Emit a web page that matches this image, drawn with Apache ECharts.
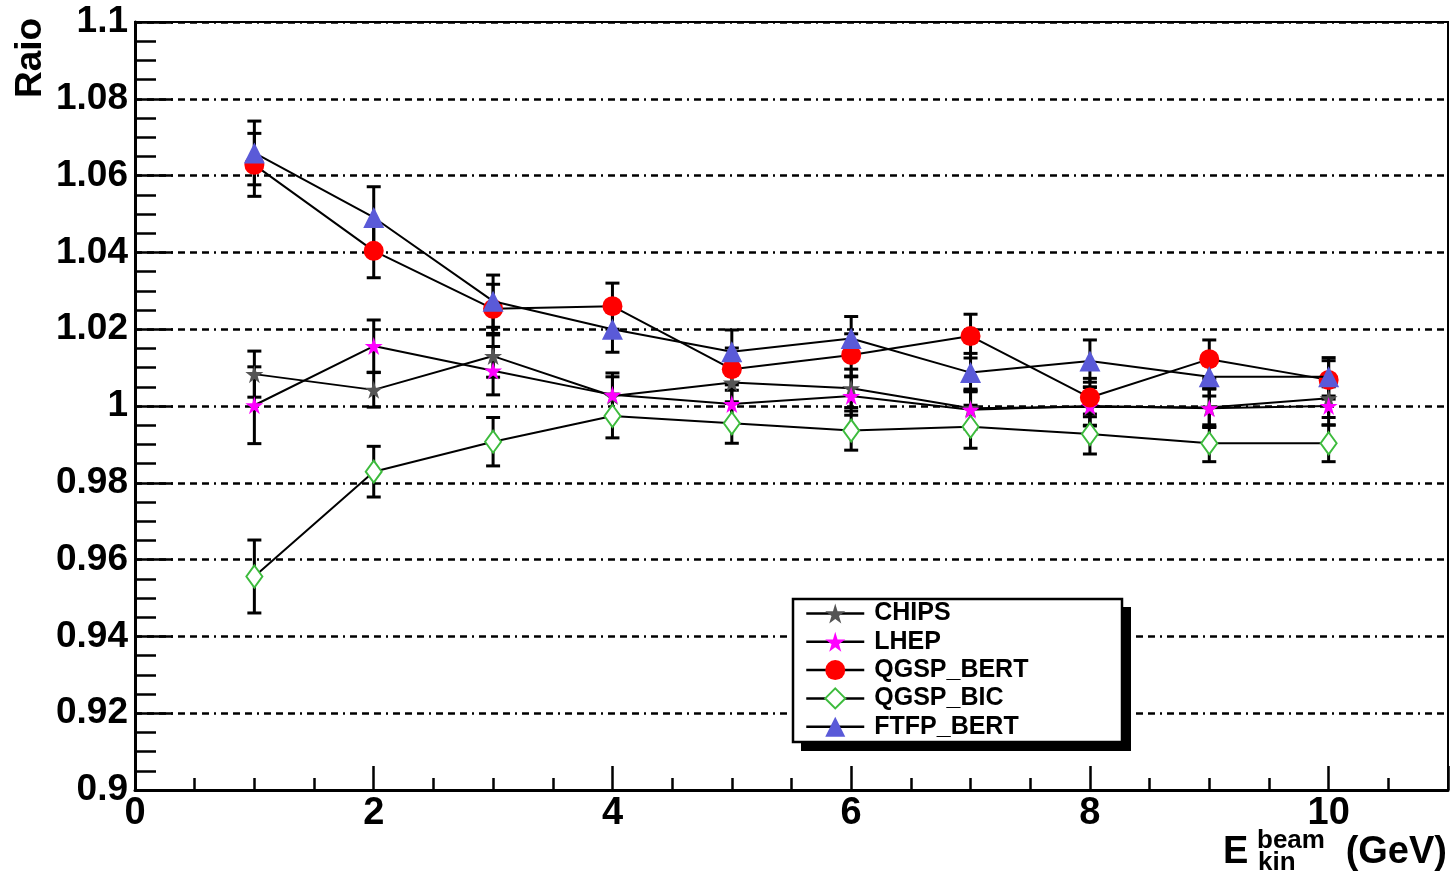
<!DOCTYPE html>
<html>
<head>
<meta charset="utf-8">
<script src="https://cdn.jsdelivr.net/npm/echarts@6/dist/echarts.min.js"></script>
<style>
  html, body { margin: 0; padding: 0; background: #fff; }
  #chart { width: 1451px; height: 877px; }
</style>
</head>
<body>
<div id="chart"></div>
<script>
// Beam energies (GeV)
const energies = [1, 2, 3, 4, 5, 6, 7, 8, 9, 10];

// Ratio per physics list, with statistical errors
const chips     = [1.0083, 1.0042, 1.0130, 1.0026, 1.0061, 1.0046, 0.9994, 0.9998, 0.9996, 1.0020];
const chipsErr  = [0.0060, 0.0045, 0.0055, 0.0050, 0.0050, 0.0050, 0.0050, 0.0050, 0.0050, 0.0050];
const lhep      = [1.0002, 1.0156, 1.0092, 1.0029, 1.0005, 1.0026, 0.9990, 1.0000, 0.9994, 1.0000];
const lhepErr   = [0.0100, 0.0068, 0.0063, 0.0057, 0.0050, 0.0050, 0.0050, 0.0050, 0.0050, 0.0050];
const qgspBert  = [1.0628, 1.0404, 1.0253, 1.0260, 1.0096, 1.0133, 1.0182, 1.0022, 1.0122, 1.0068];
const qgspBertErr = [0.0082, 0.0070, 0.0064, 0.0060, 0.0055, 0.0055, 0.0057, 0.0050, 0.0050, 0.0050];
const qgspBic   = [0.9556, 0.9829, 0.9907, 0.9974, 0.9955, 0.9936, 0.9946, 0.9927, 0.9903, 0.9903];
const qgspBicErr = [0.0095, 0.0066, 0.0063, 0.0057, 0.0052, 0.0051, 0.0056, 0.0052, 0.0048, 0.0048];
const ftfpBert  = [1.0659, 1.0491, 1.0273, 1.0200, 1.0141, 1.0176, 1.0087, 1.0117, 1.0076, 1.0076];
const ftfpBertErr = [0.0083, 0.0080, 0.0068, 0.0060, 0.0057, 0.0057, 0.0050, 0.0055, 0.0050, 0.0050];

// Axis tick labels
const xTickLabels = ['0', '2', '4', '6', '8', '10'];
const yTickLabels = ['0.9', '0.92', '0.94', '0.96', '0.98', '1', '1.02', '1.04', '1.06', '1.08', '1.1'];

const STAR = 'path://M50,0 L61,35 L98,35 L68,57 L79,91 L50,70 L21,91 L32,57 L2,35 L39,35 Z';
const FONT = 'Liberation Sans, Arial, Helvetica, sans-serif';

const seriesDefs = [
  { name: 'CHIPS',      values: chips,    errors: chipsErr,    symbol: STAR,           size: 18, color: '#555555' },
  { name: 'LHEP',       values: lhep,     errors: lhepErr,     symbol: STAR,           size: 18, color: '#ff00ff' },
  { name: 'QGSP_BERT',  values: qgspBert, errors: qgspBertErr, symbol: 'circle',       size: 20, color: '#ff0000' },
  { name: 'QGSP_BIC',   values: qgspBic,  errors: qgspBicErr,  symbol: 'emptyDiamond', size: [16, 22], color: '#3dbb3d' },
  { name: 'FTFP_BERT',  values: ftfpBert, errors: ftfpBertErr, symbol: 'triangle',     size: 21, color: '#5a5ad8' }
];

function errorBarRender(params, api) {
  const x = api.value(0), y = api.value(1), e = api.value(2);
  const top = api.coord([x, y + e]);
  const bot = api.coord([x, y - e]);
  const w = 7;
  const style = { stroke: '#000', lineWidth: 3 };
  return {
    type: 'group',
    children: [
      { type: 'line', shape: { x1: top[0], y1: top[1], x2: bot[0], y2: bot[1] }, style },
      { type: 'line', shape: { x1: top[0] - w, y1: top[1], x2: top[0] + w, y2: top[1] }, style },
      { type: 'line', shape: { x1: bot[0] - w, y1: bot[1], x2: bot[0] + w, y2: bot[1] }, style }
    ]
  };
}

const series = [];
seriesDefs.forEach((d) => {
  series.push({
    type: 'custom',
    name: d.name + ' err',
    renderItem: errorBarRender,
    data: energies.map((x, k) => [x, d.values[k], d.errors[k]]),
    z: 2
  });
});
seriesDefs.forEach((d, i) => {
  series.push({
    type: 'line',
    name: d.name,
    data: energies.map((x, k) => [x, d.values[k]]),
    symbol: d.symbol,
    symbolSize: d.size,
    showAllSymbol: true,
    lineStyle: { color: '#000', width: 2 },
    itemStyle: { color: d.color, borderWidth: d.symbol === 'emptyDiamond' ? 2.5 : 0, borderColor: d.color },
    z: 3 + i
  });
});

const chart = echarts.init(document.getElementById('chart'));
chart.setOption({
  animation: false,
  backgroundColor: '#fff',
  grid: { left: 135, top: 22, right: 3, bottom: 87, show: true, borderColor: '#000', borderWidth: 2 },
  xAxis: [
    {
      type: 'value', min: 0, max: 11, interval: 2,
      axisLine: { lineStyle: { color: '#000', width: 3 } },
      axisTick: { inside: true, length: 24, lineStyle: { color: '#000', width: 2.5 } },
      axisLabel: {
        margin: 5, color: '#000', fontSize: 38, fontWeight: 'bold', fontFamily: FONT,
        formatter: v => (v <= 10 ? xTickLabels[Math.round(v / 2)] : '')
      },
      splitLine: { show: false }
    },
    {
      type: 'value', min: 0, max: 11, interval: 0.5, position: 'bottom',
      axisLine: { show: false },
      axisTick: { inside: true, length: 12, lineStyle: { color: '#000', width: 2.5 } },
      axisLabel: { show: false },
      splitLine: { show: false }
    }
  ],
  yAxis: {
    type: 'value', min: 0.9, max: 1.1, interval: 0.02,
    axisLine: { show: true, lineStyle: { color: '#000', width: 3 } },
    axisTick: { show: true, inside: true, length: 38, lineStyle: { color: '#000', width: 2.5 } },
    minorTick: { show: true, splitNumber: 4, length: 21, lineStyle: { color: '#000', width: 2.5 } },
    axisLabel: {
      margin: 7, color: '#000', fontSize: 37, fontWeight: 'bold', fontFamily: FONT,
      formatter: v => yTickLabels[Math.round((v - 0.9) / 0.02)]
    },
    splitLine: { show: true, lineStyle: { color: '#000', width: 2.5, type: [7, 5, 7, 5, 7, 5, 2, 5] } }
  },
  legend: {
    data: seriesDefs.map(d => d.name),
    orient: 'vertical',
    left: 805, top: 601,
    padding: 0,
    itemGap: 3.3,
    itemWidth: 58,
    itemHeight: 25,
    z: 60,
    lineStyle: { width: 2.5 },
    textStyle: { color: '#000', fontSize: 25, fontWeight: 'bold', fontFamily: FONT, padding: [0, 0, 0, 5] }
  },
  graphic: [
    // legend frame with its drop shadow
    { type: 'rect', z: 50, shape: { x: 801, y: 607, width: 330, height: 144 }, style: { fill: '#000' } },
    { type: 'rect', z: 51, shape: { x: 793, y: 599, width: 329, height: 143 }, style: { fill: '#fff', stroke: '#000', lineWidth: 2.5 } },
    {
      type: 'text', x: 31, y: 58, rotation: Math.PI / 2,
      style: { text: 'Raio', fill: '#000', font: 'bold 37px ' + FONT, textAlign: 'center', textVerticalAlign: 'middle' }
    },
    {
      type: 'text', left: 1223, top: 834,
      style: { text: 'E', fill: '#000', font: 'bold 38px ' + FONT }
    },
    {
      type: 'text', left: 1257, top: 828,
      style: { text: 'beam', fill: '#000', font: 'bold 26px ' + FONT }
    },
    {
      type: 'text', left: 1258, top: 850,
      style: { text: 'kin', fill: '#000', font: 'bold 26px ' + FONT }
    },
    {
      type: 'text', right: 4, top: 834,
      style: { text: '(GeV)', fill: '#000', font: 'bold 38px ' + FONT }
    }
  ],
  series
});
</script>
</body>
</html>
